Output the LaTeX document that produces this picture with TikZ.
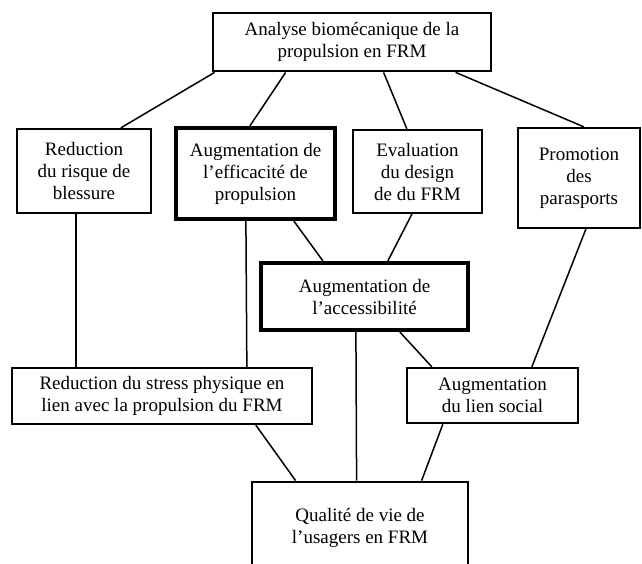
\documentclass[tikz,border=0pt]{standalone}
\usepackage{fontspec}
\setmainfont{Liberation Serif}
\begin{document}
\begin{tikzpicture}[x=1pt,y=-1pt,
  box/.style={draw=black,line width=2.3pt,inner sep=0pt,align=center,
    font=\fontsize{19}{22}\selectfont,rectangle},
  boldbox/.style={box,line width=4.2pt},
  midbox/.style={box,line width=2.8pt},
  link/.style={draw=black,line width=1.5pt}]
\fill[white] (0,0) rectangle (642,563);
\useasboundingbox (0,0) rectangle (642,563);
\clip (0,0) rectangle (642,563);

\node[midbox,minimum width=278pt,minimum height=58pt] (top) at (352,42)
  {Analyse biomécanique de la\\propulsion en FRM};
\node[box,minimum width=134pt,minimum height=84pt] (red) at (84,171)
  {Reduction\\du risque de\\blessure};
\node[boldbox,minimum width=159pt,minimum height=91pt] (eff) at (255.5,173.5)
  {Augmentation de\\l’efficacité de\\propulsion};
\node[box,minimum width=129pt,minimum height=83pt] (eval) at (417.5,171.5)
  {Evaluation\\du design\\de du FRM};
\node[box,minimum width=122pt,minimum height=100pt] (promo) at (579,178)
  {Promotion\\des\\parasports};
\node[boldbox,minimum width=207pt,minimum height=67pt] (acc) at (364.5,296.5)
  {Augmentation de\\l’accessibilité};
\node[box,minimum width=300pt,minimum height=56pt] (stress) at (162,396)
  {Reduction du stress physique en\\lien avec la propulsion du FRM};
\node[box,minimum width=171pt,minimum height=55pt] (social) at (492.5,395.5)
  {Augmentation\\du lien social};
\node[midbox,minimum width=216pt,minimum height=92pt] (qual) at (360,528)
  {Qualité de vie de\\l’usagers en FRM};

\draw[link] ([xshift=3pt]top.south west) -- ([xshift=105pt]red.north west);
\draw[link] ([xshift=74pt]top.south west) -- ([xshift=76pt]eff.north west);
\draw[link] ([xshift=172pt]top.south west) -- ([xshift=55pt]eval.north west);
\draw[link] ([xshift=244pt]top.south west) -- ([xshift=67pt]promo.north west);
\draw[link] ([xshift=60pt]red.south west) -- ([xshift=65pt]stress.north west);
\draw[link] ([xshift=72pt]eff.south west) -- ([xshift=236pt]stress.north west);
\draw[link] ([xshift=120pt]eff.south west) -- ([xshift=64pt]acc.north west);
\draw[link] ([xshift=60pt]eval.south west) -- ([xshift=129pt]acc.north west);
\draw[link] ([xshift=69pt]promo.south west) -- ([xshift=126pt]social.north west);
\draw[link] ([xshift=141pt]acc.south west) -- ([xshift=26pt]social.north west);
\draw[link] ([xshift=97pt]acc.south west) -- ([xshift=106pt]qual.north west);
\draw[link] ([xshift=245pt]stress.south west) -- ([xshift=45pt]qual.north west);
\draw[link] ([xshift=37pt]social.south west) -- ([xshift=171pt]qual.north west);
\end{tikzpicture}
\end{document}
